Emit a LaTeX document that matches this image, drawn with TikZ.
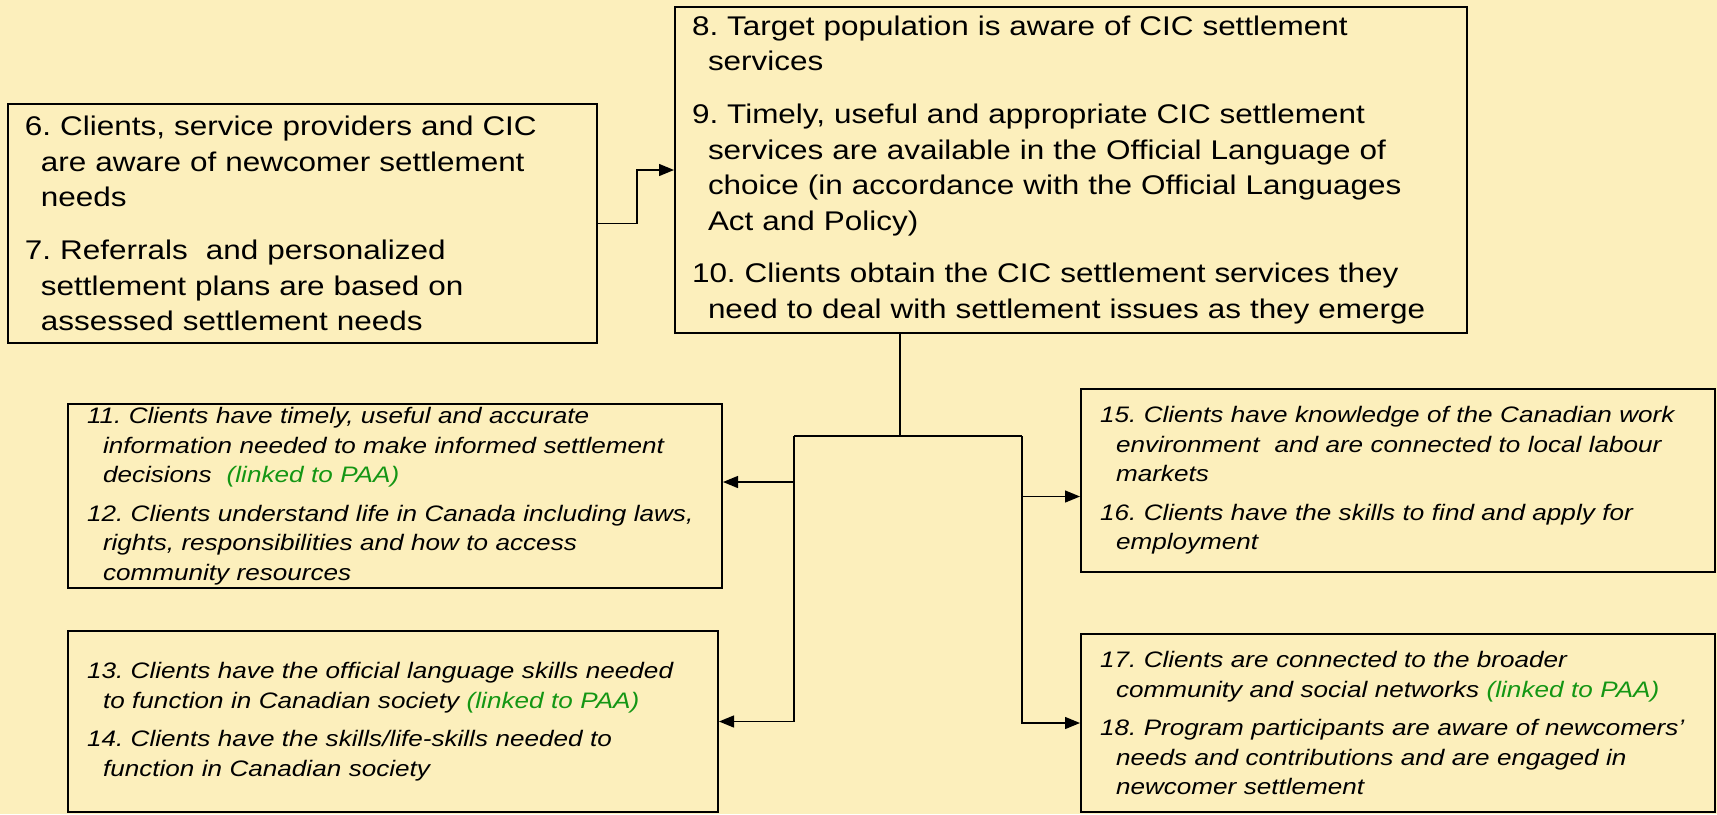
\documentclass[tikz,border=0pt]{standalone}
\usepackage{fontspec}
\setmainfont{Liberation Sans}[FakeStretch=1.165]
\usepackage{xcolor}
\usepackage{tikz}
\usetikzlibrary{positioning, arrows.meta}

\definecolor{sfondo}{RGB}{252,239,188}
\definecolor{paaverde}{RGB}{20,150,20}
\newcommand{\wrapline}{\\\hspace*{8pt}}
\newcommand{\paa}[1]{\textcolor{paaverde}{#1}}
\frenchspacing

\begin{document}
\begin{tikzpicture}[
  x=0.5pt, y=-0.5pt,
  outcome/.style={
    draw, line width=1pt, fill=sfondo,
    align=left, inner xsep=8.5pt, inner ysep=0pt,
    font=\fontsize{13.5}{17.8}\selectfont
  },
  result/.style={
    outcome, inner xsep=9.5pt,
    font=\fontsize{11.2}{14.75}\selectfont\itshape % risultati in corsivo
  },
  link/.style={line width=0.65pt},
  arrow/.style={link, -{Triangle[length=7.5pt,width=6pt]}}
]
\useasboundingbox[fill=sfondo] (0,0) rectangle (1717,814);

\node[outcome, text width=277.5pt, minimum height=119.5pt] (needs) at (302.5,223.5)
  {6. Clients, service providers and CIC\wrapline are aware of newcomer settlement\wrapline needs\\[8.5pt]
   7. Referrals \ and personalized\wrapline settlement plans are based on\wrapline assessed settlement needs};
\node[outcome, text width=379pt, minimum height=163pt] (aware) at (1071,170)
  {8. Target population is aware of CIC settlement\wrapline services\\[8.5pt]
   9. Timely, useful and appropriate CIC settlement\wrapline services are available in the Official Language of\wrapline choice (in accordance with the Official Languages\wrapline Act and Policy)\\[8.5pt]
   10. Clients obtain the CIC settlement services they\wrapline need to deal with settlement issues as they emerge};

\node[result, text width=308pt, minimum height=92pt] (info) at (395,496)
  {11. Clients have timely, useful and accurate\wrapline information needed to make informed settlement\wrapline decisions \ \paa{(linked to PAA)}\\[4.5pt]
   12. Clients understand life in Canada including laws,\wrapline rights, responsibilities and how to access\wrapline community resources};
\node[result, text width=306pt, minimum height=90.5pt] (lang) at (393,721.5)
  {13. Clients have the official language skills needed\wrapline to function in Canadian society \paa{(linked to PAA)}\\[4.5pt]
   14. Clients have the skills/life-skills needed to\wrapline function in Canadian society};
\node[result, text width=298pt, minimum height=91.5pt] (work) at (1398,480.5)
  {15. Clients have knowledge of the Canadian work\wrapline environment \ and are connected to local labour\wrapline markets\\[4.5pt]
   16. Clients have the skills to find and apply for\wrapline employment};
\node[result, text width=298pt, minimum height=89pt] (comm) at (1398,723)
  {17. Clients are connected to the broader\wrapline community and social networks \paa{(linked to PAA)}\\[4.5pt]
   18. Program participants are aware of newcomers’\wrapline needs and contributions and are engaged in\wrapline newcomer settlement};

\coordinate (split) at (900,436);
\coordinate (lbar) at (794,436);
\coordinate (rbar) at (1022,436);

\draw[arrow] (needs.east) -- ++(39,0) |- (aware.west);
\draw[link] (aware.south -| split) -- (split);
\draw[link] (lbar) -- (rbar);
\draw[arrow] (lbar) |- ([yshift=7pt]info.east);
\draw[arrow] (lbar) |- (lang.east);
\draw[arrow] (rbar) |- ([yshift=-8pt]work.west);
\draw[arrow] (rbar) |- (comm.west);
\end{tikzpicture}
\end{document}
